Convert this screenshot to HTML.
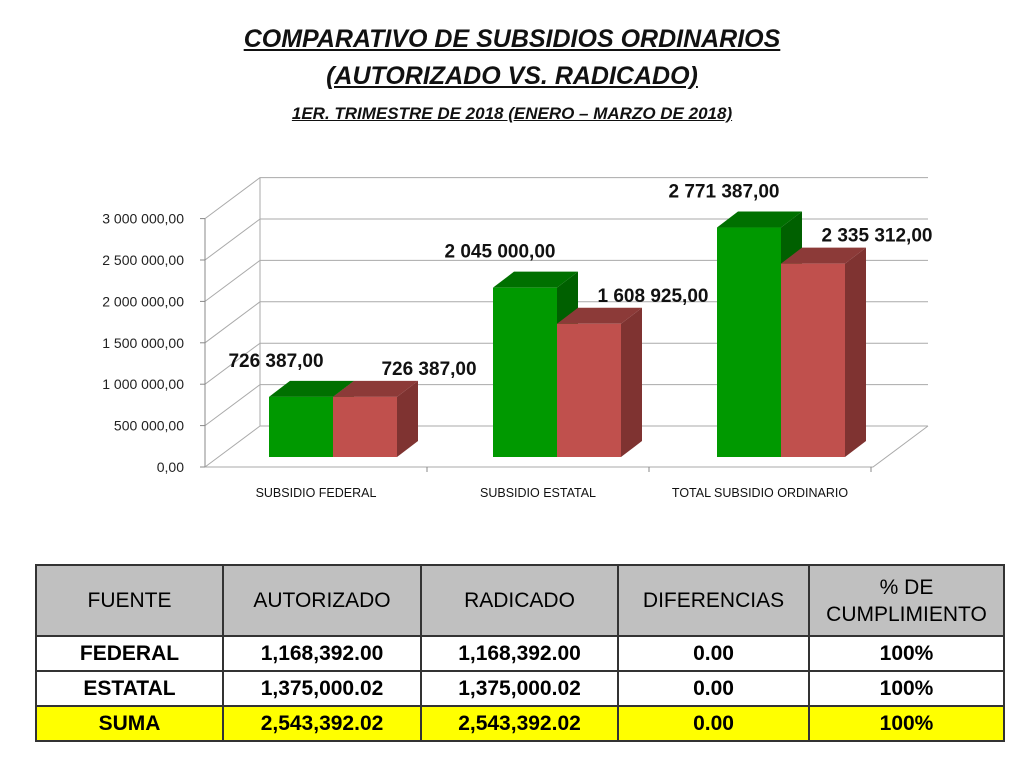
<!DOCTYPE html>
<html><head><meta charset="utf-8"><style>
body{margin:0;width:1024px;height:768px;background:#fff;font-family:"Liberation Sans",sans-serif;overflow:hidden;position:relative}
.t{position:absolute;left:0;width:1024px;text-align:center;font-weight:bold;font-style:italic;text-decoration:underline;color:#111}
table{position:absolute;left:35px;top:564px;border-collapse:collapse;font-size:21px;text-align:center;table-layout:fixed;width:968px}
td{border:2px solid #333;padding:0;height:33px;white-space:nowrap}
th{border:2px solid #333;background:#c0c0c0;font-weight:normal;height:67px;line-height:27px;font-size:21px}
td{font-weight:bold}
tr.s td{background:#ffff00}
</style></head><body>
<div class="t" style="top:25px;font-size:25px">COMPARATIVO DE SUBSIDIOS ORDINARIOS</div>
<div class="t" style="top:62px;font-size:25px">(AUTORIZADO VS. RADICADO)</div>
<div class="t" style="top:104px;font-size:17px">1ER. TRIMESTRE DE 2018 (ENERO – MARZO DE 2018)</div>
<svg id="chart" width="1024" height="520" style="position:absolute;left:0;top:0"></svg>
<table>
<colgroup><col style="width:187px"><col style="width:198px"><col style="width:197px"><col style="width:191px"><col style="width:195px"></colgroup>
<tr><th>FUENTE</th><th>AUTORIZADO</th><th>RADICADO</th><th>DIFERENCIAS</th><th>% DE<br>CUMPLIMIENTO</th></tr>
<tr><td>FEDERAL</td><td>1,168,392.00</td><td>1,168,392.00</td><td>0.00</td><td>100%</td></tr>
<tr><td>ESTATAL</td><td>1,375,000.02</td><td>1,375,000.02</td><td>0.00</td><td>100%</td></tr>
<tr class="s"><td>SUMA</td><td>2,543,392.02</td><td>2,543,392.02</td><td>0.00</td><td>100%</td></tr>
</table>
<script>
const categories=["SUBSIDIO FEDERAL","SUBSIDIO ESTATAL","TOTAL SUBSIDIO ORDINARIO"];
const autorizado=[726387,2045000,2771387];
const radicado=[726387,1608925,2335312];
const yTicks=[0,500000,1000000,1500000,2000000,2500000,3000000];
const yTickLabels=["0,00","500 000,00","1 000 000,00","1 500 000,00","2 000 000,00","2 500 000,00","3 000 000,00"];
const labelA=["726 387,00","2 045 000,00","2 771 387,00"];
const labelR=["726 387,00","1 608 925,00","2 335 312,00"];
const svg=document.getElementById('chart');
const NS="http://www.w3.org/2000/svg";
const k=41.4/500000;
const yAxis=v=>467-v*k;
const yBar=v=>457-v*k;
const xGroup=i=>269+i*224;
function mk(t,a){const e=document.createElementNS(NS,t);for(const n in a)e.setAttribute(n,a[n]);svg.appendChild(e);return e;}
yTicks.forEach((v,i)=>{
 const y=yAxis(v);
 let g=mk('polyline',{points:`205,${y} 260,${y-41} 928,${y-41}`,fill:'none',stroke:'#aaa','stroke-width':1});
 
 
 mk('line',{x1:200,y1:y,x2:205,y2:y,stroke:'#888'});
 let t=mk('text',{x:184,y:y+5,'text-anchor':'end','font-size':14,fill:'#222'});
 t.textContent=yTickLabels[i];
 
 
});
mk('line',{x1:205,y1:yAxis(0),x2:205,y2:yAxis(3000000),stroke:'#888'});
mk('polyline',{points:`205,467 873,467 928,426`,fill:'none',stroke:'#aaa'});
mk('line',{x1:260,y1:426,x2:260,y2:yAxis(3000000)-41,stroke:'#aaa'});
function bar(x,v,front,top,side,name){
 const y=yBar(v),w=64,dx=21,dy=16;
 let g=document.createElementNS(NS,'g');svg.appendChild(g);
 
 
 const p=(t,a)=>{const e=document.createElementNS(NS,t);for(const n in a)e.setAttribute(n,a[n]);g.appendChild(e);};
 p('polygon',{points:`${x+w},${y} ${x+w+dx},${y-dy} ${x+w+dx},${457-dy} ${x+w},457`,fill:side});
 p('polygon',{points:`${x},${y} ${x+dx},${y-dy} ${x+w+dx},${y-dy} ${x+w},${y}`,fill:top});
 p('rect',{x:x,y:y,width:w,height:457-y,fill:front});
}
categories.forEach((c,i)=>{
 const x=xGroup(i);
 bar(x,autorizado[i],'#009900','#007000','#006000','bar-autorizado');
 bar(x+64,radicado[i],'#c0504d','#8c3a38','#7f3331','bar-radicado');
 let a=mk('text',{x:x+32-25,y:yBar(autorizado[i])-30,'text-anchor':'middle','font-size':19,'font-weight':'bold',fill:'#111'});
 a.textContent=labelA[i];
 
 
 let r=mk('text',{x:x+96+64,y:yBar(radicado[i])-22,'text-anchor':'middle','font-size':19,'font-weight':'bold',fill:'#111'});
 r.textContent=labelR[i];
 
 
 let l=mk('text',{x:316+i*222,y:497,'text-anchor':'middle','font-size':12.5,fill:'#111'});
 l.textContent=c;
 
 
 mk('line',{x1:427+i*222,y1:467,x2:427+i*222,y2:472,stroke:'#888'});
});
</script>
</body></html>
